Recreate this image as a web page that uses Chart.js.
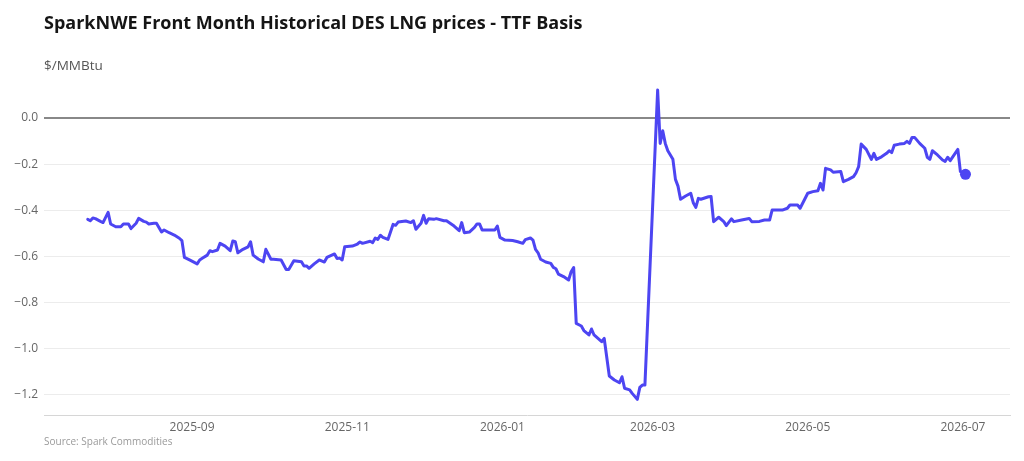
<!DOCTYPE html>
<html>
<head>
<meta charset="utf-8">
<script src="https://cdn.jsdelivr.net/npm/chart.js@4/dist/chart.umd.min.js"></script>
<style>
  html, body { margin: 0; padding: 0; background: #ffffff; }
  body { width: 1024px; height: 461px; position: relative; overflow: hidden; font-family: "Open Sans", "DejaVu Sans", sans-serif; }
  #title { position: absolute; left: 44px; top: 10px; font-size: 18px; font-weight: 700; color: #151515; white-space: nowrap; }
  #unit { position: absolute; left: 44px; top: 56px; font-size: 13.5px; color: #555; white-space: nowrap; }
  #source { position: absolute; left: 44px; top: 434px; font-size: 10px; color: #9a9a9a; white-space: nowrap; }
  #c { position: absolute; left: 0; top: 0; }
</style>
</head>
<body>
<canvas id="c" width="1024" height="461"></canvas>
<div id="title">SparkNWE Front Month Historical DES LNG prices - TTF Basis</div>
<div id="unit">$/MMBtu</div>
<div id="source">Source: Spark Commodities</div>
<script>
const dates = [
  '2025-07-22','2025-07-23','2025-07-24','2025-07-25','2025-07-27','2025-07-28','2025-07-30','2025-07-31',
  '2025-08-02','2025-08-04','2025-08-05','2025-08-07','2025-08-08','2025-08-10','2025-08-11','2025-08-13',
  '2025-08-14','2025-08-15','2025-08-17','2025-08-18','2025-08-20','2025-08-21','2025-08-23','2025-08-25',
  '2025-08-27','2025-08-28','2025-08-29','2025-08-31',
  '2025-09-03','2025-09-04','2025-09-05','2025-09-07','2025-09-08','2025-09-09','2025-09-11','2025-09-12',
  '2025-09-14','2025-09-16','2025-09-17','2025-09-18','2025-09-19','2025-09-21','2025-09-23','2025-09-24',
  '2025-09-25','2025-09-27','2025-09-29','2025-09-30',
  '2025-10-02','2025-10-03','2025-10-06','2025-10-08','2025-10-09','2025-10-11','2025-10-14','2025-10-15',
  '2025-10-16','2025-10-17','2025-10-19','2025-10-21','2025-10-23','2025-10-24','2025-10-27','2025-10-28',
  '2025-10-29','2025-10-30','2025-10-31',
  '2025-11-03','2025-11-05','2025-11-06','2025-11-07','2025-11-10','2025-11-11','2025-11-12','2025-11-13',
  '2025-11-14','2025-11-15','2025-11-17','2025-11-19','2025-11-20','2025-11-21','2025-11-24','2025-11-26',
  '2025-11-27','2025-11-28','2025-11-30',
  '2025-12-01','2025-12-02','2025-12-03','2025-12-05','2025-12-06','2025-12-09','2025-12-10','2025-12-13',
  '2025-12-15','2025-12-16','2025-12-17','2025-12-19','2025-12-21','2025-12-22','2025-12-23','2025-12-24',
  '2025-12-26','2025-12-29','2025-12-30','2025-12-31',
  '2026-01-02','2026-01-05','2026-01-07','2026-01-09','2026-01-10','2026-01-12','2026-01-13','2026-01-14',
  '2026-01-15','2026-01-16','2026-01-18','2026-01-20','2026-01-21','2026-01-22','2026-01-23','2026-01-25',
  '2026-01-27','2026-01-28','2026-01-29','2026-01-30',
  '2026-02-01','2026-02-02','2026-02-04','2026-02-05','2026-02-06','2026-02-09','2026-02-10','2026-02-12',
  '2026-02-14','2026-02-16','2026-02-17','2026-02-18','2026-02-20','2026-02-21','2026-02-23','2026-02-24',
  '2026-02-25','2026-02-26',
  '2026-03-03','2026-03-04','2026-03-05','2026-03-06','2026-03-07','2026-03-09','2026-03-10','2026-03-11',
  '2026-03-12','2026-03-14','2026-03-16','2026-03-17','2026-03-18','2026-03-19','2026-03-20','2026-03-23',
  '2026-03-24','2026-03-25','2026-03-27','2026-03-29','2026-03-30',
  '2026-04-01','2026-04-02','2026-04-05','2026-04-08','2026-04-09','2026-04-12','2026-04-14','2026-04-16',
  '2026-04-17','2026-04-21','2026-04-23','2026-04-24','2026-04-27','2026-04-28',
  '2026-05-01','2026-05-03','2026-05-05','2026-05-06','2026-05-07','2026-05-08','2026-05-10','2026-05-11',
  '2026-05-14','2026-05-15','2026-05-17','2026-05-19','2026-05-20','2026-05-21','2026-05-22','2026-05-24',
  '2026-05-26','2026-05-27','2026-05-28','2026-05-30',
  '2026-06-01','2026-06-02','2026-06-03','2026-06-04','2026-06-06','2026-06-08','2026-06-09','2026-06-10',
  '2026-06-11','2026-06-12','2026-06-14','2026-06-16','2026-06-17','2026-06-18','2026-06-19','2026-06-21',
  '2026-06-23','2026-06-24','2026-06-25','2026-06-26','2026-06-29','2026-06-30',
  '2026-07-02'
];
const values = [
  -0.439,-0.445,-0.433,-0.436,-0.448,-0.453,-0.409,-0.459,
  -0.471,-0.471,-0.459,-0.459,-0.479,-0.456,-0.435,-0.448,
  -0.451,-0.459,-0.456,-0.456,-0.494,-0.485,-0.497,-0.507,
  -0.521,-0.531,-0.604,-0.615,
  -0.632,-0.615,-0.608,-0.594,-0.575,-0.579,-0.572,-0.543,
  -0.555,-0.575,-0.533,-0.536,-0.584,-0.569,-0.558,-0.536,
  -0.594,-0.611,-0.623,-0.569,
  -0.612,-0.612,-0.615,-0.656,-0.656,-0.618,-0.623,-0.641,
  -0.641,-0.651,-0.632,-0.615,-0.624,-0.604,-0.589,-0.609,
  -0.607,-0.615,-0.558,
  -0.555,-0.546,-0.537,-0.543,-0.534,-0.540,-0.520,-0.526,
  -0.508,-0.517,-0.526,-0.461,-0.465,-0.451,-0.446,-0.453,
  -0.445,-0.482,-0.456,
  -0.422,-0.456,-0.436,-0.439,-0.436,-0.445,-0.445,-0.468,
  -0.488,-0.453,-0.497,-0.494,-0.474,-0.459,-0.459,-0.485,
  -0.485,-0.485,-0.468,-0.517,
  -0.529,-0.531,-0.536,-0.543,-0.527,-0.520,-0.529,-0.569,
  -0.584,-0.612,-0.624,-0.630,-0.647,-0.653,-0.676,-0.687,
  -0.702,-0.666,-0.648,-0.890,
  -0.901,-0.921,-0.940,-0.914,-0.940,-0.969,-0.955,-1.118,
  -1.135,-1.147,-1.121,-1.171,-1.178,-1.193,-1.219,-1.167,
  -1.157,-1.157,
  0.121,-0.110,-0.055,-0.110,-0.142,-0.179,-0.266,-0.295,
  -0.352,-0.338,-0.326,-0.367,-0.387,-0.348,-0.352,-0.341,
  -0.340,-0.449,-0.430,-0.449,-0.466,
  -0.437,-0.449,-0.442,-0.435,-0.449,-0.448,-0.442,-0.442,
  -0.399,-0.399,-0.391,-0.377,-0.377,-0.391,
  -0.326,-0.319,-0.315,-0.283,-0.312,-0.218,-0.225,-0.235,
  -0.232,-0.276,-0.266,-0.254,-0.237,-0.211,-0.113,-0.136,
  -0.179,-0.153,-0.179,-0.168,
  -0.153,-0.142,-0.150,-0.118,-0.113,-0.110,-0.101,-0.110,
  -0.084,-0.084,-0.110,-0.131,-0.170,-0.179,-0.142,-0.160,
  -0.182,-0.188,-0.170,-0.185,-0.136,-0.232,
  -0.244
];
const xTickLabels = ['2025-09','2025-11','2026-01','2026-03','2026-05','2026-07'];
const yTickValues = [0, -0.2, -0.4, -0.6, -0.8, -1.0, -1.2];

function dayNum(s) {
  const p = s.split('-').map(Number);
  return Date.UTC(p[0], p[1] - 1, p[2]) / 86400000;
}

const points = dates.map((d, i) => ({ x: dayNum(d), y: values[i] }));
const xTickPos = xTickLabels.map(l => dayNum(l + '-01'));
const lineColor = '#4D45F2';

new Chart(document.getElementById('c'), {
  type: 'line',
  data: {
    datasets: [{
      data: points,
      borderColor: lineColor,
      backgroundColor: lineColor,
      borderWidth: 3,
      tension: 0,
      borderJoinStyle: 'round',
      borderCapStyle: 'round',
      pointRadius: ctx => ctx.dataIndex === values.length - 1 ? 5.5 : 0,
      pointHoverRadius: 0,
      pointBorderWidth: 0,
      fill: false
    }]
  },
  options: {
    responsive: false,
    animation: false,
    events: [],
    layout: { padding: { left: 0, right: 14, top: 85, bottom: 26 } },
    plugins: { legend: { display: false }, tooltip: { enabled: false } },
    scales: {
      x: {
        type: 'linear',
        min: dayNum('2025-07-04') + 0.8,
        max: dayNum('2026-07-18') + 1.5,
        afterBuildTicks: s => { s.ticks = xTickPos.map(v => ({ value: v })); },
        afterFit: s => { s.height = 20; },
        grid: { display: false, drawTicks: false },
        border: { display: true, color: '#d6d6d6', width: 1 },
        ticks: {
          padding: 5,
          maxRotation: 0,
          autoSkip: false,
          color: '#666',
          font: { family: 'Open Sans', size: 12 },
          callback: v => { const i = xTickPos.indexOf(v); return i >= 0 ? xTickLabels[i] : ''; }
        }
      },
      y: {
        min: -1.2867,
        max: 0.143,
        afterBuildTicks: s => { s.ticks = yTickValues.map(v => ({ value: v })); },
        afterFit: s => { s.width = 44; },
        border: { display: false },
        grid: {
          drawTicks: false,
          color: c => c.tick && c.tick.value === 0 ? '#888888' : '#ececec',
          lineWidth: c => c.tick && c.tick.value === 0 ? 2 : 1
        },
        ticks: {
          padding: 6,
          color: '#666',
          font: { family: 'Open Sans', size: 12 },
          callback: v => (v < 0 ? '\u2212' : '') + Math.abs(v).toFixed(1)
        }
      }
    }
  }
});
</script>
</body>
</html>
